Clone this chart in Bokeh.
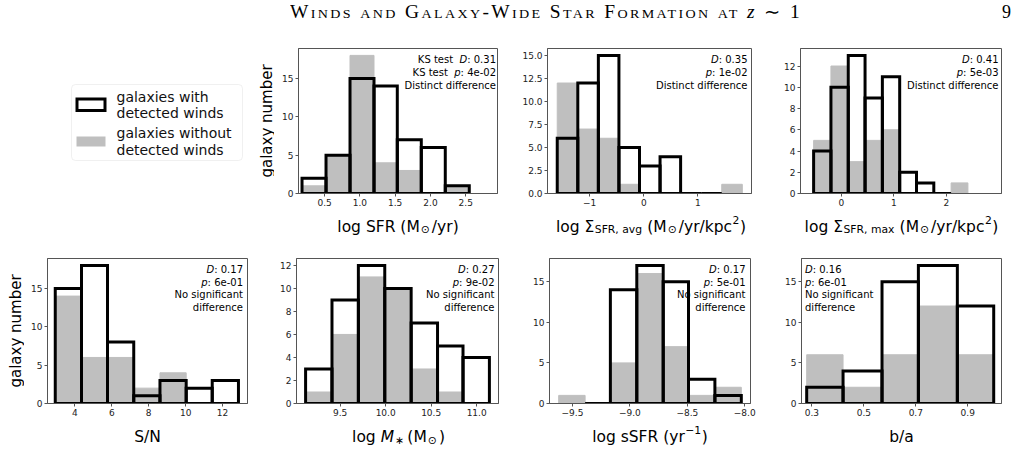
from bokeh.plotting import figure
from bokeh.layouts import column, row
from bokeh.models import Range1d, FixedTicker, Label, BoxAnnotation, Div
from bokeh.embed import file_html
from bokeh.resources import INLINE

# ---------------------------------------------------------------------------
# Histogram data: bin edges and galaxy counts, with / without detected winds
# ---------------------------------------------------------------------------
# log SFR
SFR_EDGES_W = [0.18, 0.52, 0.86, 1.20, 1.53, 1.87, 2.21, 2.55]
SFR_N_W = [2, 5, 15, 14, 7, 6, 1]
SFR_EDGES_NW = [0.18, 0.52, 0.86, 1.20, 1.53, 1.87, 2.21, 2.55, 2.89]
SFR_N_NW = [1, 5, 18, 4, 3, 0, 1, 0]
SFR_XTICKS = [0.5, 1.0, 1.5, 2.0, 2.5]
SFR_XLABELS = ["0.5", "1.0", "1.5", "2.0", "2.5"]
SFR_YTICKS = [0, 5, 10, 15]
SFR_YLABELS = ["0", "5", "10", "15"]
SFR_KS = ["0.31", "4e-02", "Distinct difference"]

# log Sigma_SFR, avg
SIGAVG_EDGES_W = [-1.60, -1.22, -0.84, -0.46, -0.08, 0.30, 0.68, 1.06, 1.44]
SIGAVG_N_W = [6, 12, 15, 5, 3, 4, 0, 0]
SIGAVG_EDGES_NW = [-1.60, -1.22, -0.84, -0.46, -0.08, 0.30, 0.68, 1.06, 1.44, 1.82]
SIGAVG_N_NW = [12, 7, 6, 1, 0, 0, 0, 0, 1]
SIGAVG_XTICKS = [-1, 0, 1]
SIGAVG_XLABELS = ["\u22121", "0", "1"]
SIGAVG_YTICKS = [0, 2.5, 5, 7.5, 10, 12.5, 15]
SIGAVG_YLABELS = ["0.0", "2.5", "5.0", "7.5", "10.0", "12.5", "15.0"]
SIGAVG_KS = ["0.35", "1e-02", "Distinct difference"]

# log Sigma_SFR, max
SIGMAX_EDGES_W = [-0.53, -0.20, 0.13, 0.45, 0.78, 1.11, 1.43, 1.76, 2.09]
SIGMAX_N_W = [4, 10, 13, 9, 11, 2, 1, 0]
SIGMAX_EDGES_NW = [-0.53, -0.20, 0.13, 0.45, 0.78, 1.11, 1.43, 1.76, 2.09, 2.41]
SIGMAX_N_NW = [5, 12, 3, 5, 6, 0, 0, 0, 1]
SIGMAX_XTICKS = [0, 1, 2]
SIGMAX_XLABELS = ["0", "1", "2"]
SIGMAX_YTICKS = [0, 2, 4, 6, 8, 10, 12]
SIGMAX_YLABELS = ["0", "2", "4", "6", "8", "10", "12"]
SIGMAX_KS = ["0.41", "5e-03", "Distinct difference"]

# S/N
SN_EDGES = [2.94, 4.36, 5.77, 7.19, 8.61, 10.03, 11.44, 12.86]
SN_N_W = [15, 18, 8, 1, 3, 2, 3]
SN_N_NW = [14, 6, 6, 2, 4, 0, 0]
SN_XTICKS = [4, 6, 8, 10, 12]
SN_XLABELS = ["4", "6", "8", "10", "12"]
SN_YTICKS = [0, 5, 10, 15]
SN_YLABELS = ["0", "5", "10", "15"]
SN_KS = ["0.17", "6e-01", "No significant difference"]

# log M*
MASS_EDGES = [9.12, 9.41, 9.70, 9.99, 10.28, 10.57, 10.85, 11.14]
MASS_N_W = [3, 9, 12, 10, 7, 5, 4]
MASS_N_NW = [1, 6, 11, 10, 3, 1, 0]
MASS_XTICKS = [9.5, 10.0, 10.5, 11.0]
MASS_XLABELS = ["9.5", "10.0", "10.5", "11.0"]
MASS_YTICKS = [0, 2, 4, 6, 8, 10, 12]
MASS_YLABELS = ["0", "2", "4", "6", "8", "10", "12"]
MASS_KS = ["0.27", "9e-02", "No significant difference"]

# log sSFR
SSFR_EDGES_W = [-9.39, -9.17, -8.94, -8.71, -8.49, -8.26, -8.03]
SSFR_N_W = [0, 14, 17, 15, 3, 1]
SSFR_EDGES_NW = [-9.62, -9.39, -9.17, -8.94, -8.71, -8.49, -8.26, -8.03]
SSFR_N_NW = [1, 0, 5, 16, 7, 1, 2]
SSFR_XTICKS = [-9.5, -9.0, -8.5, -8.0]
SSFR_XLABELS = ["\u22129.5", "\u22129.0", "\u22128.5", "\u22128.0"]
SSFR_YTICKS = [0, 5, 10, 15]
SSFR_YLABELS = ["0", "5", "10", "15"]
SSFR_KS = ["0.17", "5e-01", "No significant difference"]

# b/a
BA_EDGES = [0.28, 0.42, 0.57, 0.71, 0.86, 1.00]
BA_N_W = [2, 4, 15, 17, 12]
BA_N_NW = [6, 2, 6, 12, 6]
BA_XTICKS = [0.3, 0.5, 0.7, 0.9]
BA_XLABELS = ["0.3", "0.5", "0.7", "0.9"]
BA_YTICKS = [0, 5, 10, 15]
BA_YLABELS = ["0", "5", "10", "15"]
BA_KS = ["0.16", "6e-01", "No significant difference"]

# ---------------------------------------------------------------------------
# Styling
# ---------------------------------------------------------------------------
FONT = "DejaVu Sans"
SPINE = "#555555"
GRAY = "#bfbfbf"
TICK_SIZE = 9
LABEL_SIZE = 15.5
YLABEL_SIZE = 15
NOTE_SIZE = 10
FRAME_H = 145
BORDER_T, BORDER_B = 23, 17

# DejaVu Sans advance widths (fraction of an em), used to chain text pieces
_ADV = {" ": 0.318, "(": 0.390, ")": 0.390, ",": 0.318, "-": 0.361, ".": 0.318,
        "/": 0.337, ":": 0.337, "D": 0.770, "F": 0.575, "K": 0.656, "M": 0.863,
        "N": 0.748, "R": 0.695, "S": 0.635, "a": 0.613, "b": 0.635, "c": 0.550,
        "d": 0.635, "e": 0.615, "f": 0.352, "g": 0.635, "i": 0.278, "k": 0.579,
        "l": 0.278, "m": 0.974, "n": 0.634, "o": 0.612, "p": 0.635, "r": 0.411,
        "s": 0.521, "t": 0.392, "u": 0.634, "v": 0.592, "w": 0.818, "x": 0.592,
        "y": 0.592, "\u03a3": 0.632, "\u2299": 0.838, "\u2217": 0.500, "\u2212": 0.838}
for _d in "0123456789":
    _ADV[_d] = 0.636


def text_width(s, size):
    return sum(_ADV.get(ch, 0.6) for ch in s) * size


def blank_figure(width, height, x0, x1, y_bottom, y_top, top=0, bottom=0):
    """A figure without axes whose data units are page pixels (y grows downward)."""
    f = figure(width=width, height=height, x_range=Range1d(x0, x1),
               y_range=Range1d(y_bottom, y_top), min_border_left=0, min_border_right=0,
               min_border_top=top, min_border_bottom=bottom,
               x_axis_location=None, y_axis_location=None,
               output_backend="svg", toolbar_location=None, tools="")
    f.grid.visible = False
    f.outline_line_color = None
    f.background_fill_color = "white"
    f.border_fill_color = "white"
    return f


def style_axes(p, xticks, xlabels, yticks, ylabels):
    p.xgrid.visible = False
    p.ygrid.visible = False
    p.outline_line_color = SPINE
    p.outline_line_width = 1
    p.background_fill_color = "white"
    p.border_fill_color = "white"
    p.xaxis.ticker = FixedTicker(ticks=xticks)
    p.xaxis.major_label_overrides = dict(zip(xticks, xlabels))
    p.yaxis.ticker = FixedTicker(ticks=yticks)
    p.yaxis.major_label_overrides = dict(zip(yticks, ylabels))
    for ax in (p.xaxis[0], p.yaxis[0]):
        ax.axis_line_color = SPINE
        ax.major_tick_line_color = SPINE
        ax.major_tick_out = 3
        ax.major_tick_in = 0
        ax.minor_tick_line_color = None
        ax.major_label_text_font = FONT
        ax.major_label_text_font_size = f"{TICK_SIZE}px"
        ax.major_label_text_color = "#222222"
        ax.major_label_standoff = 2


def add_ks_text(p, ks, prefix, align, pad, first, step):
    d_val, p_val, verdict = ks
    if verdict.startswith("No significant"):
        tail = ["No significant", "difference"]
    else:
        tail = [verdict]
    lines = [(prefix, "D", ": " + d_val), (prefix, "p", ": " + p_val)]
    lines += [("", "", t) for t in tail]
    for i, (pre, it, suf) in enumerate(lines):
        yoff = -(first + i * step)
        common = dict(y=p.y_range.end, y_offset=yoff, text_font=FONT,
                      text_font_size=f"{NOTE_SIZE}px", text_baseline="middle",
                      text_color="black", level="underlay")
        if align == "right":
            x = p.x_range.end
            w_suf = text_width(suf, NOTE_SIZE)
            w_it = text_width(it, NOTE_SIZE)
            p.add_layout(Label(x=x, x_offset=-pad, text=suf, text_align="right", **common))
            if it:
                p.add_layout(Label(x=x, x_offset=-pad - w_suf, text=it, text_align="right",
                                   text_font_style="italic", **common))
            if pre:
                # trailing blanks are not kept by the renderer, so turn them into a gap
                gap = text_width(pre[len(pre.rstrip()):], NOTE_SIZE)
                p.add_layout(Label(x=x, x_offset=-pad - w_suf - w_it - gap,
                                   text=pre.rstrip(), text_align="right", **common))
        else:
            x = p.x_range.start
            w_it = text_width(it, NOTE_SIZE)
            if it:
                p.add_layout(Label(x=x, x_offset=pad, text=it, text_align="left",
                                   text_font_style="italic", **common))
            p.add_layout(Label(x=x, x_offset=pad + w_it, text=suf, text_align="left", **common))


def make_panel(frame_w, borders, xr, edges_w, n_w, edges_nw, n_nw, xticks, xlabels,
               yticks, ylabels, ks, ks_prefix="", ks_align="right", ks_pad=3,
               ks_first=11, ks_step=12.7):
    left, right = borders
    ymax = 1.05 * max(max(n_w), max(n_nw))
    p = figure(frame_width=frame_w, frame_height=FRAME_H,
               min_border_left=left, min_border_right=right,
               min_border_top=BORDER_T, min_border_bottom=BORDER_B,
               x_range=Range1d(*xr), y_range=Range1d(0, ymax),
               output_backend="svg", toolbar_location=None, tools="")
    style_axes(p, xticks, xlabels, yticks, ylabels)
    add_ks_text(p, ks, ks_prefix, ks_align, ks_pad, ks_first, ks_step)
    # galaxies without detected winds: filled gray bars
    p.quad(left=edges_nw[:-1], right=edges_nw[1:], bottom=0, top=n_nw,
           fill_color=GRAY, line_color=GRAY, line_width=1)
    # galaxies with detected winds: open black bars
    p.quad(left=edges_w[:-1], right=edges_w[1:], bottom=0, top=n_w,
           fill_color=None, line_color="black", line_width=3, line_join="miter")
    return p


def add_rich_label(f, pieces, xc, baseline):
    """Centered label made of pieces: (text, scale, rise_in_em, italic, gap_before_px)."""
    widths = [gap + text_width(t, LABEL_SIZE * sc) for t, sc, rise, it, gap in pieces]
    x = xc - sum(widths) / 2.0
    for (t, sc, rise, it, gap), w in zip(pieces, widths):
        f.add_layout(Label(x=x + gap, y=baseline - rise * LABEL_SIZE, text=t,
                           text_font=FONT, text_font_size=f"{LABEL_SIZE * sc:.1f}px",
                           text_font_style="italic" if it else "normal",
                           text_align="left", text_baseline="alphabetic",
                           text_color="black"))
        x += w


def add_ylabel(f, xc, yc):
    f.add_layout(Label(x=xc, y=yc, text="galaxy number", angle=90, angle_units="deg",
                       text_font=FONT, text_font_size=f"{YLABEL_SIZE}px",
                       text_align="center", text_baseline="middle", text_color="black"))


# x-axis label pieces: (text, scale, rise, italic, gap before)
SUB, SUP = -0.22, 0.42
SP = 0.318 * LABEL_SIZE   # width of a blank
XL_SFR = [("log SFR (M", 1, 0, False, 0), ("\u2299", 0.7, SUB, False, 1),
          ("/yr)", 1, 0, False, 2)]
XL_SIGAVG = [("log \u03a3", 1, 0, False, 0), ("SFR, avg", 0.7, SUB, False, 0.5),
             ("(M", 1, 0, False, SP), ("\u2299", 0.7, SUB, False, 1),
             ("/yr/kpc", 1, 0, False, 2), ("2", 0.7, SUP, False, 0.5), (")", 1, 0, False, 0.5)]
XL_SIGMAX = [("log \u03a3", 1, 0, False, 0), ("SFR, max", 0.7, SUB, False, 0.5),
             ("(M", 1, 0, False, SP), ("\u2299", 0.7, SUB, False, 1),
             ("/yr/kpc", 1, 0, False, 2), ("2", 0.7, SUP, False, 0.5), (")", 1, 0, False, 0.5)]
XL_SN = [("S/N", 1, 0, False, 0)]
XL_MASS = [("log", 1, 0, False, 0), ("M", 1, 0, True, SP), ("\u2217", 0.7, SUB, False, 1),
           ("(M", 1, 0, False, SP + 2), ("\u2299", 0.7, SUB, False, 1), (")", 1, 0, False, 2)]
XL_SSFR = [("log sSFR (yr", 1, 0, False, 0), ("\u22121", 0.7, SUP, False, 0.5),
           (")", 1, 0, False, 0.5)]
XL_BA = [("b/a", 1, 0, False, 0)]

# ---------------------------------------------------------------------------
# Panels
# ---------------------------------------------------------------------------
p1 = make_panel(199, (24, 8), (0.13, 2.95), SFR_EDGES_W, SFR_N_W,
                SFR_EDGES_NW, SFR_N_NW, SFR_XTICKS, SFR_XLABELS, SFR_YTICKS, SFR_YLABELS,
                SFR_KS, ks_prefix="KS test  ", ks_pad=1.5, ks_first=10.6, ks_step=13)
p2 = make_panel(204, (42, 9), (-1.78, 1.99), SIGAVG_EDGES_W, SIGAVG_N_W,
                SIGAVG_EDGES_NW, SIGAVG_N_NW, SIGAVG_XTICKS, SIGAVG_XLABELS,
                SIGAVG_YTICKS, SIGAVG_YLABELS, SIGAVG_KS, ks_pad=4,
                ks_first=10.6, ks_step=13)
p3 = make_panel(201, (40, 20), (-0.78, 3.05), SIGMAX_EDGES_W, SIGMAX_N_W,
                SIGMAX_EDGES_NW, SIGMAX_N_NW, SIGMAX_XTICKS, SIGMAX_XLABELS,
                SIGMAX_YTICKS, SIGMAX_YLABELS, SIGMAX_KS, ks_pad=3,
                ks_first=10.6, ks_step=13)
p4 = make_panel(200, (23, 8), (2.52, 13.35), SN_EDGES, SN_N_W,
                SN_EDGES, SN_N_NW, SN_XTICKS, SN_XLABELS, SN_YTICKS, SN_YLABELS,
                SN_KS, ks_pad=4.5)
p5 = make_panel(202, (41, 7), (9.02, 11.24), MASS_EDGES, MASS_N_W,
                MASS_EDGES, MASS_N_NW, MASS_XTICKS, MASS_XLABELS, MASS_YTICKS,
                MASS_YLABELS, MASS_KS, ks_pad=4)
p6 = make_panel(201, (44, 10), (-9.70, -7.95), SSFR_EDGES_W, SSFR_N_W,
                SSFR_EDGES_NW, SSFR_N_NW, SSFR_XTICKS, SSFR_XLABELS, SSFR_YTICKS,
                SSFR_YLABELS, SSFR_KS, ks_pad=5)
p7 = make_panel(200, (41, 20), (0.26, 1.03), BA_EDGES, BA_N_W,
                BA_EDGES, BA_N_NW, BA_XTICKS, BA_XLABELS, BA_YTICKS, BA_YLABELS,
                BA_KS, ks_align="left", ks_pad=3.5)

ROW_H = BORDER_T + FRAME_H + BORDER_B          # 185
TOP_Y0 = 25                                    # first panel row starts below header
BOT_Y0 = TOP_Y0 + ROW_H + 25                   # 235

# ---------------------------------------------------------------------------
# Legend panel + y label of the first row (page-pixel coordinates)
# ---------------------------------------------------------------------------
LEG_W = 274
fy0, fy1 = TOP_Y0 + BORDER_T, TOP_Y0 + BORDER_T + FRAME_H
leg = blank_figure(LEG_W, ROW_H, 0, LEG_W, fy1, fy0, top=BORDER_T, bottom=BORDER_B)
leg.add_layout(BoxAnnotation(left=71, right=242, top=84, bottom=160,
                             fill_color="white", fill_alpha=1, line_color="#cccccc",
                             line_width=1, border_radius=4, level="underlay"))
leg.quad(left=[76.5], right=[104.5], top=[98.5], bottom=[110], fill_color=None,
         line_color="black", line_width=3, line_join="miter")
leg.quad(left=[76], right=[105], top=[136], bottom=[146], fill_color=GRAY,
         line_color=None)
LEGEND_LINES = [("galaxies with", 96), ("detected winds", 112),
                ("galaxies without", 132), ("detected winds", 149)]
for txt, yy in LEGEND_LINES:
    leg.add_layout(Label(x=116, y=yy, text=txt, text_font=FONT, text_font_size="14px",
                         text_align="left", text_baseline="middle", text_color="#111111"))
add_ylabel(leg, 266, 0.5 * (fy0 + fy1))

# y label of the second row
by0, by1 = BOT_Y0 + BORDER_T, BOT_Y0 + BORDER_T + FRAME_H
ylab2 = blank_figure(24, ROW_H, 0, 24, by1, by0, top=BORDER_T, bottom=BORDER_B)
add_ylabel(ylab2, 15, 0.5 * (by0 + by1))

# ---------------------------------------------------------------------------
# x-axis label strips
# ---------------------------------------------------------------------------
s1y0 = TOP_Y0 + ROW_H
strip1 = blank_figure(1021, 25, 0, 1021, s1y0 + 25, s1y0)
add_rich_label(strip1, XL_SFR, 397.5, 226)
add_rich_label(strip1, XL_SIGAVG, 650.5, 226)
add_rich_label(strip1, XL_SIGMAX, 901, 226)

s2y0 = BOT_Y0 + ROW_H
strip2 = blank_figure(1021, 450 - s2y0, 0, 1021, 450, s2y0)
add_rich_label(strip2, XL_SN, 147, 436.5)
add_rich_label(strip2, XL_MASS, 398, 436.5)
add_rich_label(strip2, XL_SSFR, 649.5, 436.5)
add_rich_label(strip2, XL_BA, 901, 436.5)

# ---------------------------------------------------------------------------
# Running header
# ---------------------------------------------------------------------------
header_html = (
    '<div style="position:relative;width:1021px;height:25px;overflow:visible;'
    "font-family:'Liberation Serif',serif;color:#000;\">"
    '<span style="position:absolute;left:290px;top:0px;font-size:18px;'
    'font-variant:small-caps;letter-spacing:2.2px;white-space:nowrap;display:inline-block;'
    'transform:scaleX(1.08);transform-origin:0 0;">'
    'Winds and Galaxy-Wide Star Formation at '
    '<i style="font-variant:normal">z</i> \u223c 1</span>'
    '<span style="position:absolute;left:1002px;top:0px;font-size:18px;">9</span>'
    '</div>'
)
header = Div(text=header_html, width=1021, height=TOP_Y0, margin=(0, 0, 0, 0))

layout = column(header,
                row(leg, p1, p2, p3, spacing=0),
                strip1,
                row(ylab2, p4, p5, p6, p7, spacing=0),
                strip2,
                spacing=0)

with open("out.html", "w") as f:
    f.write(file_html(layout, INLINE, title="Galaxy wind histograms"))
